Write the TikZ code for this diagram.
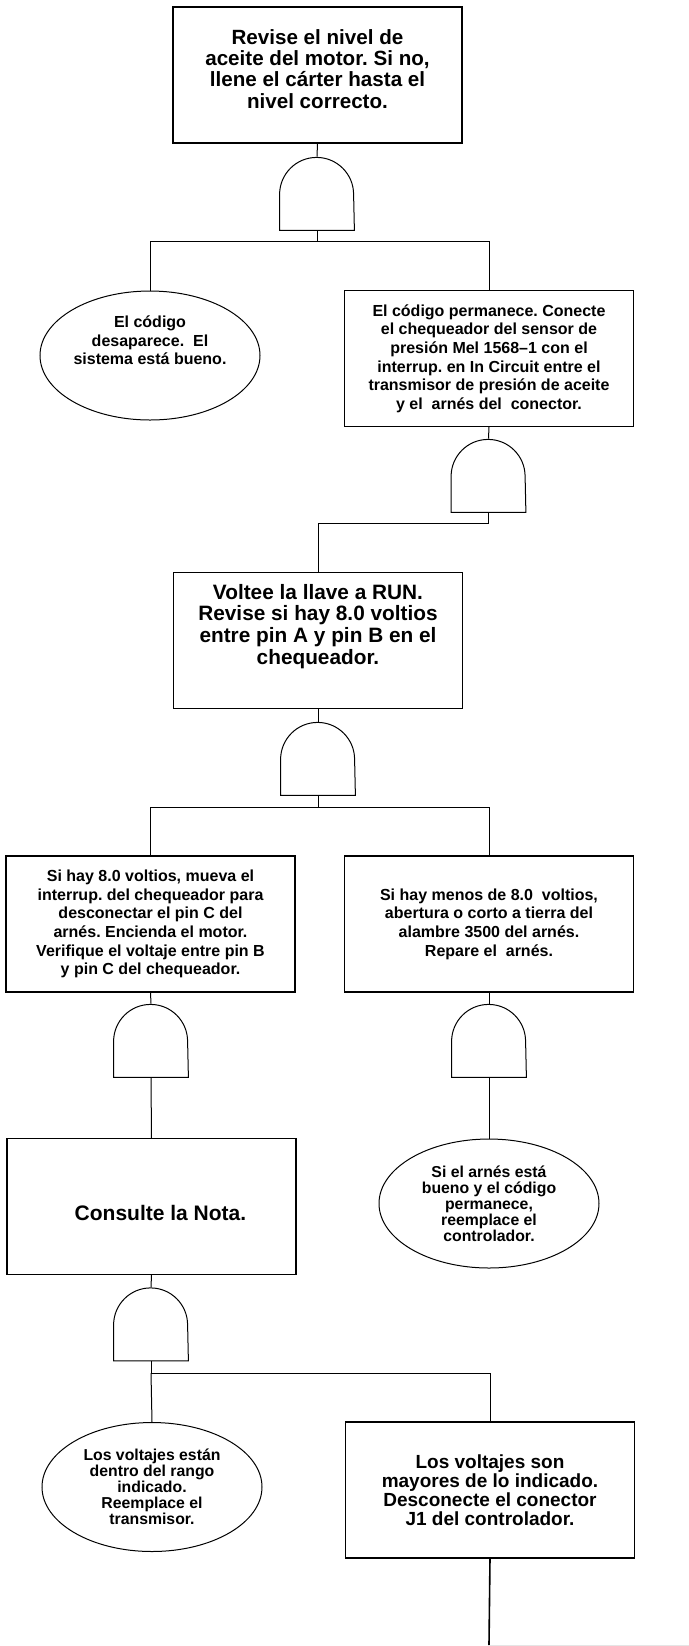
\documentclass[tikz,border=0pt]{standalone}
\usepackage{fontspec}
\setmainfont{Liberation Sans}
\usetikzlibrary{shapes.geometric}
\frenchspacing

\newcommand{\andgate}[2]{%
	\node[gatebox] (#1) at (#2){};
	\draw[wire] (#1.south west) -- ++(0,18pt) arc[start angle=180, end angle=0, radius=18.5pt] -- (#1.south east) -- cycle;}

\begin{document}
\begin{tikzpicture}[x=0.5pt, y=-0.5pt,
	box/.style={shape=rectangle, draw, line width=0.55pt, minimum width=144.5pt, minimum height=68pt, inner sep=0pt, align=center},
	oval/.style={shape=ellipse, draw, line width=0.5pt, minimum width=110pt, minimum height=64.5pt, inner sep=0pt, align=center},
	gatebox/.style={shape=rectangle, minimum width=37pt, minimum height=36.5pt, inner sep=0pt},
	wire/.style={line width=0.5pt},
	bigtxt/.style={font=\bfseries\fontsize{10.3}{10.6}\selectfont, align=center},
	smalltxt/.style={font=\bfseries\fontsize{8}{9.3}\selectfont},
	ovaltxt/.style={font=\bfseries\fontsize{7.9}{8}\selectfont}]
	\useasboundingbox (0,0) rectangle (689,1646);
	% Boxes, ovals and gates:
	\node[box] (top) at (317.5, 75){};
	\node[bigtxt] (top-txt) at ([yshift=3pt]top.center){Revise el nivel de\\aceite del motor. Si no,\\llene el cárter hasta el\\nivel correcto.};
	\andgate{g1}{317, 193.5}
	\node[oval] (e1) at (150, 355.5){};
	\node[smalltxt, align=center] (e1-txt) at ([yshift=7.5pt]e1.center){El código\\desaparece.\ \ El\\sistema está bueno.};
	\node[box, smalltxt] (b2) at (489, 358.5){El código permanece. Conecte\\el chequeador del sensor de\\presión Mel 1568–1 con el\\interrup. en In Circuit entre el\\transmisor de presión de aceite\\y el\ \ arnés del\ \ conector.};
	\andgate{g2}{488.5, 475.5}
	\node[box] (b3) at (318, 640.5){};
	\node[bigtxt, font=\bfseries\fontsize{10.4}{10.9}\selectfont] (b3-txt) at ([yshift=7pt]b3.center){Voltee la llave a RUN.\\Revise si hay 8.0 voltios\\entre pin A y pin B en el\\chequeador.};
	\andgate{g3}{318, 758.5}
	\node[box, smalltxt] (b4) at (150.5, 924){Si hay 8.0 voltios, mueva el\\interrup. del chequeador para\\desconectar el pin C del\\arnés. Encienda el motor.\\Verifique el voltaje entre pin B\\y pin C del chequeador.};
	\node[box, smalltxt] (b5) at (489, 924){Si hay menos de 8.0\ \ voltios,\\abertura o corto a tierra del\\alambre 3500 del arnés.\\Repare el\ \ arnés.};
	\andgate{g4}{151, 1040.5}
	\andgate{g5}{489, 1040.5}
	\node[box] (b6) at (151.5, 1206.5){};
	\node[bigtxt, font=\bfseries\fontsize{10.5}{11}\selectfont] (b6-txt) at ([xshift=4.5pt, yshift=-3pt]b6.center){Consulte la Nota.};
	\node[oval, ovaltxt] (e2) at (489, 1203.5){Si el arnés está\\bueno y el código\\permanece,\\reemplace el\\controlador.};
	\andgate{g6}{151, 1324}
	\node[oval, ovaltxt] (e3) at (152, 1487){Los voltajes están\\dentro del rango\\indicado.\\Reemplace el\\transmisor.};
	\node[box, font=\bfseries\fontsize{9.5}{9.4}\selectfont] (b7) at (490, 1490){Los voltajes son\\mayores de lo indicado.\\Desconecte el conector\\J1 del controlador.};
	% Joints:
	\coordinate (j1) at (317, 241);
	\coordinate (j2) at (318, 523);
	\coordinate (j3) at (318, 807);
	\coordinate (j4) at (151, 1373);
	\coordinate (end) at (489, 1645);
	\coordinate (edge) at (689, 1645);
	% Wires:
	\draw[wire] (top.south) -- (g1.north);
	\draw[wire] (g1.south) -- (j1);
	\draw[wire] (e1.north) |- (j1) -| (b2.north);
	\draw[wire] (b2.south) -- (g2.north);
	\draw[wire] (g2.south) |- (j2) -- (b3.north);
	\draw[wire] (b3.south) -- (g3.north);
	\draw[wire] (g3.south) -- (j3);
	\draw[wire] (b4.north) |- (j3) -| (b5.north);
	\draw[wire] (b4.south) -- (g4.north);
	\draw[wire] (b5.south) -- (g5.north);
	\draw[wire] (g4.south) -- (b6.north);
	\draw[wire] (g5.south) -- (e2.north);
	\draw[wire] (b6.south) -- (g6.north);
	\draw[wire] (g6.south) -- (j4) -| (b7.north);
	\draw[wire] (j4) -- (e3.north);
	\draw[line width=0.8pt] (b7.south) -- (end);
	\draw[gray!20, line width=0.5pt] (end) -- (edge);
\end{tikzpicture}
\end{document}
